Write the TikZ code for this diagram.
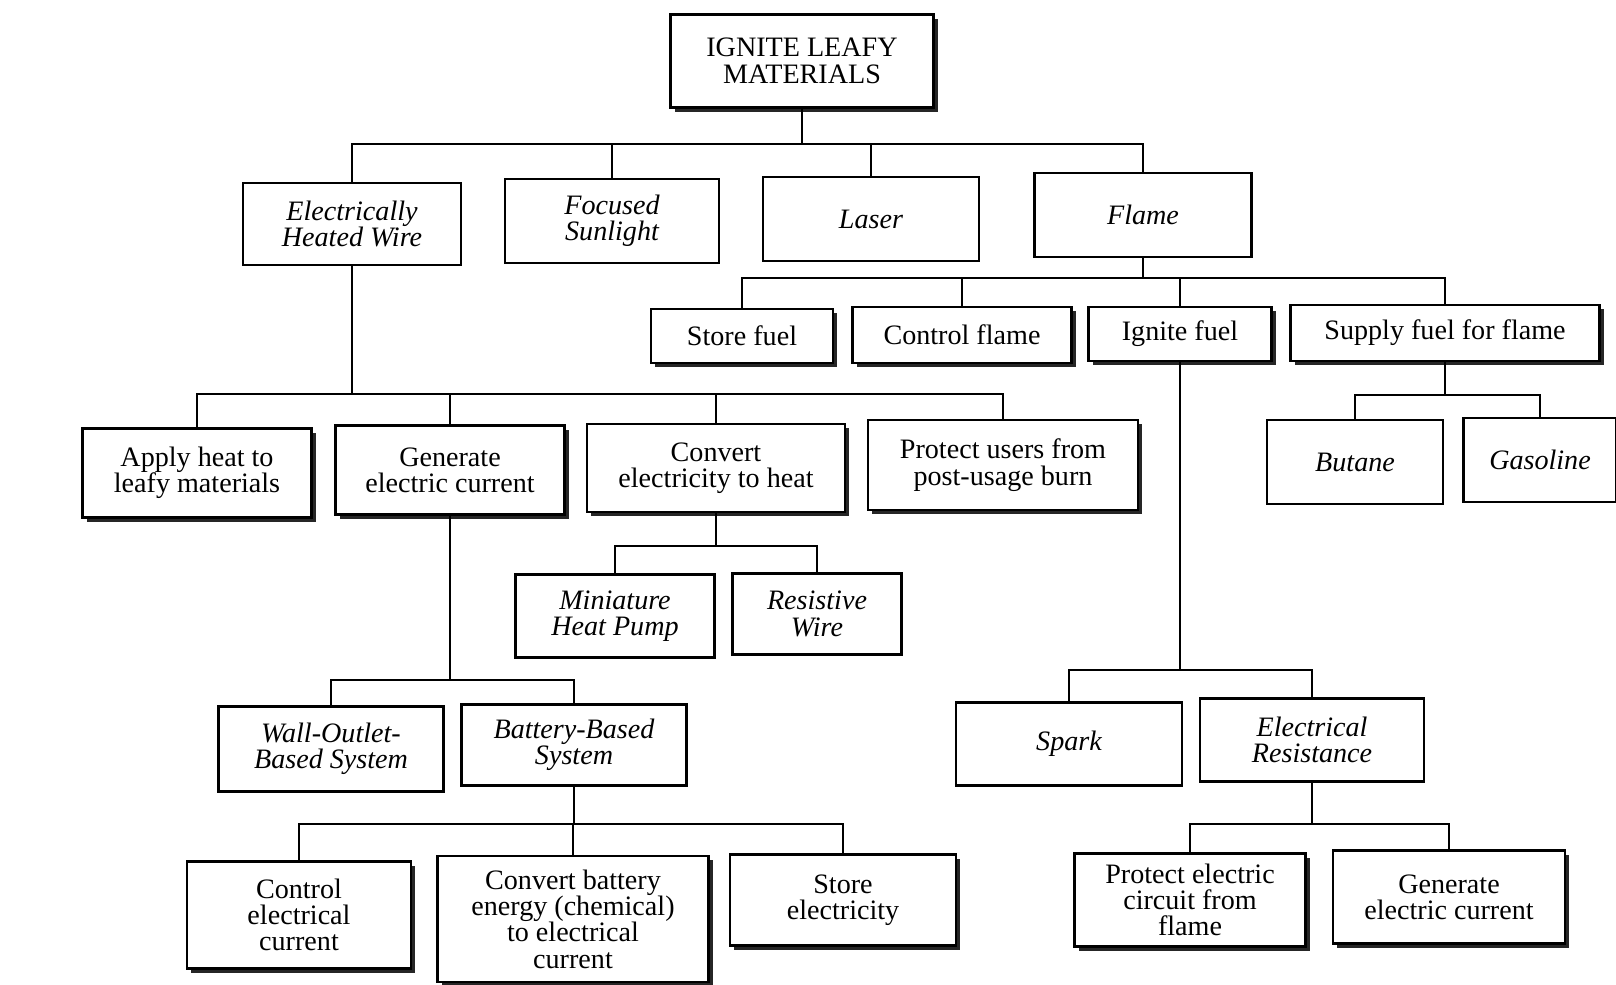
\documentclass[tikz,border=0pt]{standalone}
\usepackage{fontspec}
\setmainfont{Liberation Serif}
\usetikzlibrary{shadows}

\tikzset{
  box/.style={draw, line width=1.3pt, fill=white, align=center, inner sep=2pt,
    font=\fontsize{16}{15}\selectfont},
  fn/.style={box, drop shadow={shadow xshift=0.8mm, shadow yshift=-0.8mm, fill=black!85, opacity=1}},
  mn/.style={box, font=\fontsize{16}{15}\selectfont\itshape},
  wd/.style={minimum width=#1*0.2mm},
  ht/.style={minimum height=#1*0.2mm},
  link/.style={line width=1.2pt}
}

\begin{document}
\begin{tikzpicture}[x=0.2mm, y=-0.2mm]
            \useasboundingbox[fill=white] (0,0) rectangle (1616,984);

            % Top
            \node[fn, wd=263, ht=93] (root) at (802,61) {IGNITE LEAFY\\MATERIALS};

            % Means
            \node[mn, wd=218, ht=82] (wire) at (352,224) {Electrically\\Heated Wire};
            \node[mn, wd=214, ht=84] (sun) at (612,221) {Focused\\Sunlight};
            \node[mn, wd=216, ht=84] (laser) at (871,219) {Laser};
            \node[mn, wd=217, ht=84] (flame) at (1143,215) {Flame};

            % Functions under flame
            \node[fn, wd=182, ht=54] (store) at (742,336) {Store fuel};
            \node[fn, wd=219, ht=56] (ctrl) at (962,335) {Control flame};
            \node[fn, wd=183, ht=54] (ignite) at (1180,334) {Ignite fuel};
            \node[fn, wd=309, ht=56] (supply) at (1445,333) {Supply fuel for flame};

            \node[mn, wd=176, ht=84] (butane) at (1355,462) {Butane};
            \node[mn, wd=153, ht=84] (gas) at (1540,460) {Gasoline};

            % Functions under heated wire
            \node[fn, wd=229, ht=89] (apply) at (197,473) {Apply heat to\\leafy materials};
            \node[fn, wd=229, ht=89] (gen) at (450,470) {Generate\\electric current};
            \node[fn, wd=258, ht=88] (conv) at (716,468) {Convert\\electricity to heat};
            \node[fn, wd=270, ht=90] (protu) at (1003,465) {Protect users from\\post-usage burn};

            \node[mn, wd=199, ht=83] (pump) at (615,616) {Miniature\\Heat Pump};
            \node[mn, wd=169, ht=81] (rwire) at (817,614) {Resistive\\Wire};

            \node[mn, wd=225, ht=85] (wall) at (331,749) {Wall-Outlet-\\Based System};
            \node[mn, wd=225, ht=81] (batt) at (574,745) {Battery-Based\\System};

            \node[mn, wd=226, ht=83] (spark) at (1069,744) {Spark};
            \node[mn, wd=224, ht=83] (eres) at (1312,740) {Electrical\\Resistance};

            \node[fn, wd=224, ht=107] (ccur) at (299,915) {Control\\electrical\\current};
            \node[fn, wd=271, ht=126] (cbat) at (573,919) {Convert battery\\energy (chemical)\\to electrical\\current};
            \node[fn, wd=226, ht=91] (stel) at (843,900) {Store\\electricity};

            \node[fn, wd=231, ht=93] (protc) at (1190,900) {Protect electric\\circuit from\\flame};
            \node[fn, wd=232, ht=93] (gen2) at (1449,897) {Generate\\electric current};

            % Tree lines
            \foreach \p/\y/\a/\b in {root/144/wire/flame, flame/278/store/supply,
                wire/394/apply/protu, conv/546/pump/rwire, gen/680/wall/batt,
                batt/824/ccur/stel, ignite/670/spark/eres, supply/395/butane/gas,
                eres/824/protc/gen2}
              \draw[link] (\a.north) -- (\a.north |- 0,\y) -- (\b.north |- 0,\y) -- (\b.north)
                (\p.south) -- (\p.south |- 0,\y);
            \foreach \c/\y in {sun/144, laser/144, ctrl/278, ignite/278, gen/394, conv/394, cbat/824}
              \draw[link] (\c.north) -- (\c.north |- 0,\y);

\end{tikzpicture}
\end{document}
